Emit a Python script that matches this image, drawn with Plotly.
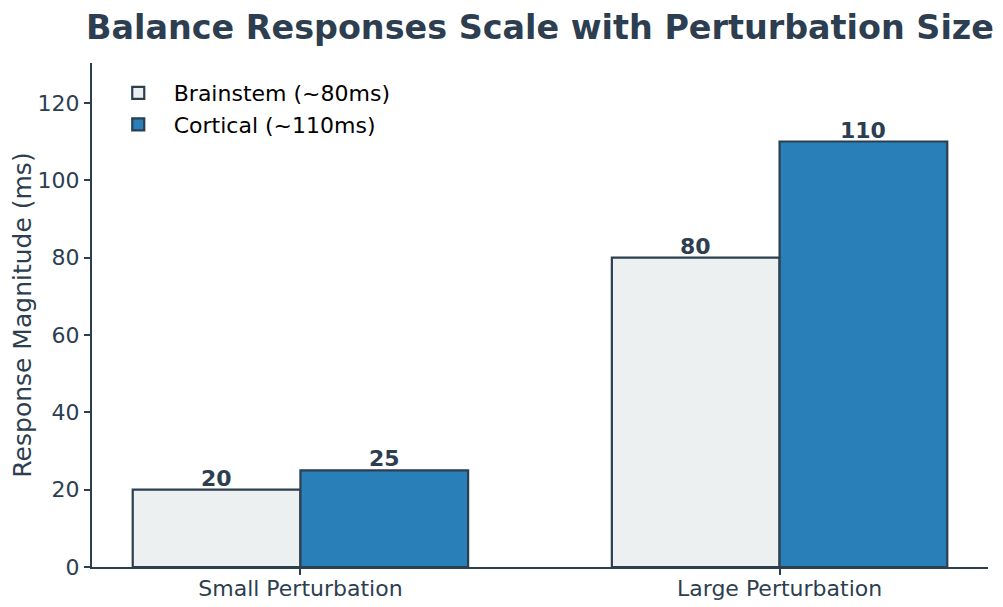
import plotly.graph_objects as go

categories = ["Small Perturbation", "Large Perturbation"]
brainstem = [20, 80]
cortical = [25, 110]
series_names = ["Brainstem (~80ms)", "Cortical (~110ms)"]
y_ticks = [0, 20, 40, 60, 80, 100, 120]

dark = "#2C3E50"
font_family = "DejaVu Sans"
bar_w = 0.35

fig = go.Figure()
series = [(series_names[0], brainstem, "#ECF0F1", -bar_w / 2),
          (series_names[1], cortical, "#2980B9", bar_w / 2)]
for name, vals, color, off in series:
    xs = list(range(len(categories)))
    fig.add_trace(go.Bar(
        x=xs, y=vals, name=name,
        marker=dict(color=color, line=dict(color=dark, width=2.2)),
    ))
    for xi, v in zip(xs, vals):
        fig.add_annotation(x=xi + off, y=v, text=f"<b>{v}</b>", showarrow=False,
                           yanchor="bottom", yshift=-3,
                           font=dict(size=22, color=dark, family=font_family))

fig.update_layout(
    width=1003, height=607,
    barmode="group", bargap=0.3, bargroupgap=0,
    plot_bgcolor="white", paper_bgcolor="white",
    margin=dict(l=84, r=23, t=55, b=48),
    font=dict(family=font_family, color=dark, size=22),
    title=dict(text="<b>Balance Responses Scale with Perturbation Size</b>",
               x=0.5304, xanchor="center", y=0.987, yanchor="top",
               font=dict(size=33.4, color=dark, family=font_family)),
    legend=dict(x=0.012, y=0.982, xanchor="left", yanchor="top",
                font=dict(size=22, color="black", family=font_family),
                bgcolor="rgba(0,0,0,0)", itemwidth=61),
    showlegend=True,
)
fig.update_xaxes(
    range=[-0.435, 1.435], tickmode="array", tickvals=list(range(len(categories))),
    ticktext=categories, showline=True, linecolor=dark, linewidth=2,
    ticks="outside", ticklen=6, tickwidth=1.5, tickcolor=dark,
    tickfont=dict(size=22, color=dark), showgrid=False, zeroline=False,
    automargin=False, ticklabelstandoff=-5,
)
fig.update_yaxes(
    range=[0, 130.3], tickvals=y_ticks, showline=True, linecolor=dark, linewidth=2,
    ticks="outside", ticklen=6, tickwidth=1.5, tickcolor=dark,
    tickfont=dict(size=22, color=dark), showgrid=False, zeroline=False,
    title=dict(text="Response Magnitude (ms)", font=dict(size=25, color=dark), standoff=8),
    automargin=False,
)

fig.write_html("out.html")
